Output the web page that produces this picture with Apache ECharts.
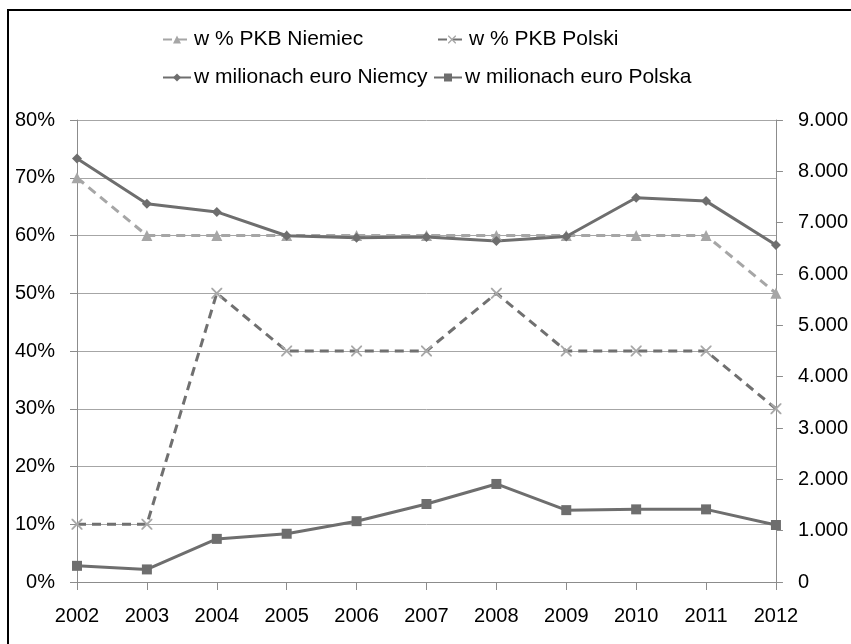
<!DOCTYPE html>
<html>
<head>
<meta charset="utf-8">
<script src="https://cdn.jsdelivr.net/npm/echarts@6/dist/echarts.min.js"></script>
<style>
html,body{margin:0;padding:0;background:#fff;}
#chart{width:851px;height:644px;}
</style>
</head>
<body>
<div id="chart"></div>
<script>
// ---- data ----
var years = ['2002','2003','2004','2005','2006','2007','2008','2009','2010','2011','2012'];
var shareGermany = [70,60,60,60,60,60,60,60,60,60,50];
var sharePoland = [10,10,50,40,40,40,50,40,40,40,30];
var eurGermany = [8250,7370,7210,6745,6705,6720,6645,6730,7485,7420,6565];
var eurPoland = [315,245,840,940,1185,1520,1910,1400,1415,1415,1110];
var seriesNames = ['w % PKB Niemiec','w % PKB Polski','w milionach euro Niemcy','w milionach euro Polska'];

var FONT = '"Liberation Sans",Arial,sans-serif';
var crossPath = 'path://M0,0L1.2,0L5,3.8L8.8,0L10,0L10,1.2L6.2,5L10,8.8L10,10L8.8,10L5,6.2L1.2,10L0,10L0,8.8L3.8,5L0,1.2Z';

var chart = echarts.init(document.getElementById('chart'), null, {renderer:'canvas'});

function legendItem(name, left, top){
  return {
    data:[name], left:left, top:top, padding:0,
    itemWidth:28, itemHeight:10, itemGap:0,
    textStyle:{fontFamily:FONT, fontSize:21, color:'#000', padding:[0,0,0,-2]},
    selectedMode:false
  };
}

var option = {
  animation:false,
  backgroundColor:'#fff',
  graphic:[{
    type:'rect', silent:true, z:-1,
    shape:{x:8, y:10, width:900, height:700},
    style:{fill:'none', stroke:'#000', lineWidth:2}
  }],
  legend:[
    legendItem(seriesNames[0], 162, 29),
    legendItem(seriesNames[1], 437, 29),
    legendItem(seriesNames[2], 162, 67),
    legendItem(seriesNames[3], 433, 67)
  ],
  grid:{left:77, right:75, top:120, bottom:62, containLabel:false},
  xAxis:{
    type:'category', data:years, boundaryGap:false,
    axisLine:{lineStyle:{color:'#8c8c8c', width:1}},
    axisTick:{show:true, length:8, interval:0, lineStyle:{color:'#8c8c8c'}},
    axisLabel:{fontFamily:FONT, fontSize:20, color:'#000', margin:24, interval:0},
    splitLine:{show:false}
  },
  yAxis:[{
    type:'value', min:0, max:80, interval:10, position:'left',
    axisLine:{show:true, lineStyle:{color:'#8c8c8c'}},
    axisTick:{show:true, length:7, lineStyle:{color:'#8c8c8c'}},
    axisLabel:{fontFamily:FONT, fontSize:20, color:'#000', margin:22, formatter:'{value}%'},
    splitLine:{show:true, lineStyle:{color:'#a6a6a6', width:1}}
  },{
    type:'value', min:0, max:9000, interval:1000, position:'right',
    axisLine:{show:true, lineStyle:{color:'#8c8c8c'}},
    axisTick:{show:true, length:7, lineStyle:{color:'#8c8c8c'}},
    axisLabel:{fontFamily:FONT, fontSize:20, color:'#000', margin:22,
      formatter:function(v){ if(v===0) return '0'; return String(v/1000)+'.000'; }},
    splitLine:{show:false}
  }],
  series:[{
    name:seriesNames[0], type:'line', yAxisIndex:0, data:shareGermany,
    symbol:'triangle', symbolSize:11, showAllSymbol:true,
    lineStyle:{color:'#a6a6a6', width:3, type:[9,6]},
    itemStyle:{color:'#a6a6a6'}
  },{
    name:seriesNames[1], type:'line', yAxisIndex:0, data:sharePoland,
    symbol:crossPath, symbolSize:11, showAllSymbol:true,
    lineStyle:{color:'#707070', width:3, type:[9,6]},
    itemStyle:{color:'#a8a8a8'}
  },{
    name:seriesNames[2], type:'line', yAxisIndex:1, data:eurGermany,
    symbol:'diamond', symbolSize:10, showAllSymbol:true,
    lineStyle:{color:'#6e6e6e', width:3},
    itemStyle:{color:'#6e6e6e'}
  },{
    name:seriesNames[3], type:'line', yAxisIndex:1, data:eurPoland,
    symbol:'rect', symbolSize:10, showAllSymbol:true,
    lineStyle:{color:'#6e6e6e', width:3},
    itemStyle:{color:'#6e6e6e'}
  }]
};
chart.setOption(option);
</script>
</body>
</html>
